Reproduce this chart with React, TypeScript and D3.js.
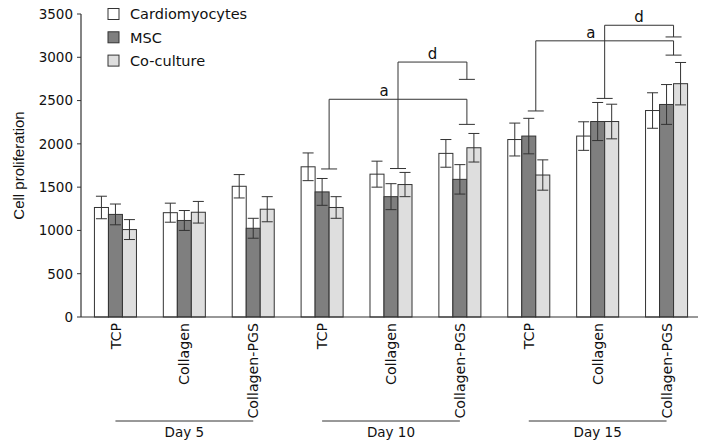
import * as d3 from "d3";
import React from "react";

// groups along the x axis
const days = ["Day 5", "Day 10", "Day 15"];
const surfaces = ["TCP", "Collagen", "Collagen-PGS"];
const groups = days.flatMap((day) => surfaces.map((s) => `${day}|${s}`));

// mean values per group
const cardio = [1265, 1205, 1510, 1735, 1650, 1890, 2050, 2090, 2385];
const cardioErr = [130, 110, 135, 160, 150, 160, 190, 165, 205];
const msc = [1185, 1115, 1025, 1445, 1390, 1590, 2090, 2258, 2455];
const mscErr = [120, 115, 115, 155, 150, 170, 205, 220, 230];
const coculture = [1010, 1210, 1245, 1265, 1530, 1955, 1640, 2258, 2695];
const cocultureErr = [115, 125, 145, 125, 140, 165, 175, 200, 245];

const seriesNames = ["Cardiomyocytes", "MSC", "Co-culture"];
const seriesColors = ["#ffffff", "#7f7f7f", "#dedede"];

const yTicks = [0, 500, 1000, 1500, 2000, 2500, 3000, 3500];

// significance brackets: group indexes and heights in data units
const brackets = [
    { label: "a", from: 3, to: 5, top: 2515, leftEnd: 1710, rightEnd: 2225, labelPos: 0.4 },
    { label: "d", from: 4, to: 5, top: 2945, leftEnd: 1715, rightEnd: 2745, labelPos: 0.5 },
    { label: "a", from: 6, to: 8, top: 3190, leftEnd: 2380, rightEnd: 3025, labelPos: 0.4 },
    { label: "d", from: 7, to: 8, top: 3370, leftEnd: 2525, rightEnd: 3235, labelPos: 0.5 },
];

const font = "'DejaVu Sans', Verdana, sans-serif";
const ink = "#333";

const App = () => {
    const width = 709;
    const height = 447;
    const left = 81;

    const series = [
        { name: seriesNames[0], values: cardio, err: cardioErr, color: seriesColors[0] },
        { name: seriesNames[1], values: msc, err: mscErr, color: seriesColors[1] },
        { name: seriesNames[2], values: coculture, err: cocultureErr, color: seriesColors[2] },
    ];

    const yScale = d3.scaleLinear().domain([0, 3500]).range([317, 14]);

    const xScale = d3.scaleBand()
        .domain(groups)
        .range([left, 701])
        .paddingInner(0.39)
        .paddingOuter(0.195);

    const inner = d3.scaleBand()
        .domain(seriesNames)
        .range([0, xScale.bandwidth()]);

    const center = (i) => xScale(groups[i]) + xScale.bandwidth() / 2;
    const capW = 11;
    const bOff = xScale.bandwidth() / 6; // brackets sit a little right of the group centre
    const bCap = 8;

    return (
        <svg width={width} height={height} style={{ position: "absolute", left: 0, top: 0, background: "#fff" }}>
            {/* y axis */}
            <line x1={left} x2={left} y1={yScale(3500)} y2={yScale(0)} stroke={ink} strokeWidth={1.2} />
            {yTicks.map((t) => (
                <g key={t}>
                    <line x1={left - 4} x2={left} y1={yScale(t)} y2={yScale(t)} stroke={ink} />
                    <text x={left - 8} y={yScale(t)} dy="0.36em" textAnchor="end" fontSize={13.5} fontFamily={font} fill="#111">{t}</text>
                </g>
            ))}
            <text transform={`translate(24,${(yScale(0) + yScale(3500)) / 2}) rotate(-90)`} textAnchor="middle"
                fontSize={15} fontFamily="'Liberation Sans', Arial, sans-serif" fill="#111">Cell proliferation</text>

            {/* bars */}
            {series.map((s) => (
                <g key={s.name}>
                    {s.values.map((v, i) => {
                        const x = xScale(groups[i]) + inner(s.name);
                        const cx = x + inner.bandwidth() / 2;
                        return (
                            <g key={i}>
                                <rect x={x} y={yScale(v)} width={inner.bandwidth()} height={yScale(0) - yScale(v)}
                                    fill={s.color} stroke={ink} strokeWidth={1} />
                                <line x1={cx} x2={cx} y1={yScale(v + s.err[i])} y2={yScale(v - s.err[i])} stroke={ink} />
                                <line x1={cx - capW / 2} x2={cx + capW / 2} y1={yScale(v + s.err[i])} y2={yScale(v + s.err[i])} stroke={ink} />
                                <line x1={cx - capW / 2} x2={cx + capW / 2} y1={yScale(v - s.err[i])} y2={yScale(v - s.err[i])} stroke={ink} />
                            </g>
                        );
                    })}
                </g>
            ))}

            {/* x axis */}
            <line x1={left} x2={xScale.range()[1] - 3} y1={yScale(0)} y2={yScale(0)} stroke={ink} strokeWidth={1.2} />
            {groups.map((g, i) => (
                <text key={g} transform={`translate(${center(i)},${yScale(0) + 6}) rotate(-90)`} dy="0.36em"
                    textAnchor="end" fontSize={14.2} fontFamily={font} fill="#111">{g.split("|")[1]}</text>
            ))}
            {days.map((day, d) => {
                const x1 = center(d * 3);
                const x2 = center(d * 3 + 2);
                return (
                    <g key={day}>
                        <line x1={x1} x2={x2} y1={421} y2={421} stroke={ink} />
                        <text x={(x1 + x2) / 2} y={437} textAnchor="middle" fontSize={13.5} fontFamily={font} fill="#111">{day}</text>
                    </g>
                );
            })}

            {/* significance brackets */}
            {brackets.map((b, k) => {
                const x1 = center(b.from) + bOff;
                const x2 = center(b.to) + bOff;
                const yt = yScale(b.top);
                const yl = yScale(b.leftEnd);
                const yr = yScale(b.rightEnd);
                return (
                    <g key={k} stroke={ink} fill="none">
                        <path d={`M${x1},${yl}V${yt}H${x2}V${yr}`} />
                        <line x1={x1 - bCap} x2={x1 + bCap} y1={yl} y2={yl} />
                        <line x1={x2 - bCap} x2={x2 + bCap} y1={yr} y2={yr} />
                        <text x={x1 + (x2 - x1) * b.labelPos} y={yt - 3} textAnchor="middle" stroke="none"
                            fill="#111" fontSize={15} fontFamily={font}>{b.label}</text>
                    </g>
                );
            })}

            {/* legend */}
            {series.map((s, i) => (
                <g key={s.name} transform={`translate(108,${14 + i * 23.3})`}>
                    <rect x={0} y={-5.5} width={11} height={11} fill={s.color} stroke={ink} />
                    <text x={22} y={0} dy="0.36em" fontSize={14.5} fontFamily={font} fill="#111">{s.name}</text>
                </g>
            ))}
        </svg>
    );
};

export default App;
